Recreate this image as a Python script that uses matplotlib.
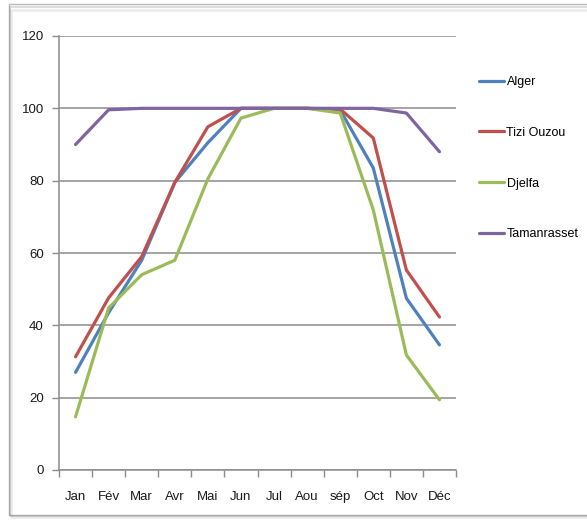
import matplotlib
matplotlib.use("Agg")
import matplotlib.pyplot as plt
from matplotlib.patches import Rectangle
import numpy as np

plt.rcParams['font.family'] = ['Liberation Sans', 'DejaVu Sans']

months = ["Jan", "Fév", "Mar", "Avr", "Mai", "Jun", "Jul", "Aou", "sép", "Oct", "Nov", "Déc"]
alger = [27, 43.5, 58, 79.5, 90.5, 100, 100, 100, 99.5, 83.5, 47.5, 34.6]
tizi_ouzou = [31.3, 47.6, 59, 79.5, 94.9, 100, 100, 100, 99.8, 91.8, 55.3, 42.3]
djelfa = [14.7, 44.8, 54, 58, 80.5, 97.3, 100, 100, 98.7, 71.9, 31.8, 19.4]
tamanrasset = [90, 99.6, 100, 100, 100, 100, 100, 100, 100, 100, 98.7, 88]

series = [("Alger", alger, "#4F81BD"),
          ("Tizi Ouzou", tizi_ouzou, "#C0504D"),
          ("Djelfa", djelfa, "#9BBB59"),
          ("Tamanrasset", tamanrasset, "#8064A2")]

W, H = 587, 521
fig = plt.figure(figsize=(W / 100, H / 100), dpi=100)
fig.patch.set_facecolor("white")

# soft shadowed frame around the chart area
for i, a in enumerate([0.12, 0.22, 0.45]):
    fig.add_artist(Rectangle(((11 - i) / W, (4 + i) / H),
                             (W + 10) / W, (H - 14 + 2 * i) / H,
                             transform=fig.transFigure, fill=False,
                             edgecolor=(0.4, 0.4, 0.4, a), linewidth=2.0 - 0.5 * i))

ax = fig.add_axes([59 / W, 1 - 470 / H, (456 - 59) / W, (470 - 36) / H])
x = np.arange(len(months))
for name, vals, col in series:
    ax.plot(x, vals, color=col, lw=2.3, label=name, solid_capstyle="round")

ax.set_xlim(-0.5, len(months) - 0.5)
ax.set_ylim(0, 120)
ax.set_yticks(np.arange(0, 121, 20))
ax.set_xticks(x)
ax.set_xticklabels(months)
ax.set_xticks(np.arange(-0.5, len(months), 1), minor=True)
ax.tick_params(axis="x", which="major", length=0, pad=15, labelsize=9.5, labelcolor="#1a1a1a")
ax.tick_params(axis="x", which="minor", length=5, color="#8c8c8c", width=1)
ax.tick_params(axis="y", length=5, color="#8c8c8c", width=1, labelsize=9.5, labelcolor="#1a1a1a", pad=6)
ax.grid(axis="y", color="#8c8c8c", lw=1.1)
ax.set_axisbelow(True)
for s in ["top", "right"]:
    ax.spines[s].set_visible(False)
for s in ["left", "bottom"]:
    ax.spines[s].set_color("#8c8c8c")
    ax.spines[s].set_linewidth(1.1)

fig.legend(loc="upper left", bbox_to_anchor=(474 / W, 1 - 71 / H), frameon=False,
           fontsize=9, handlelength=2.0, handletextpad=0.2, labelspacing=3.1,
           borderaxespad=0)

fig.savefig("out.png", dpi=100, facecolor="white")
